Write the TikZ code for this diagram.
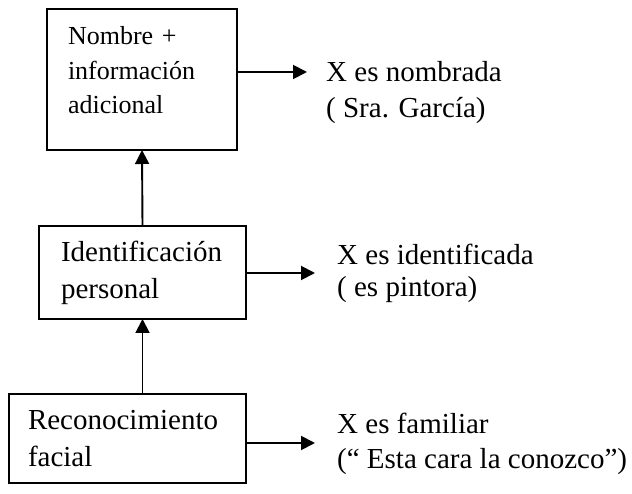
\documentclass[tikz,border=0pt]{standalone}
\usepackage{fontspec}
\setmainfont{Liberation Serif}
\usetikzlibrary{arrows.meta}
\begin{document}
\begin{tikzpicture}[x=1pt,y=-1pt,
  box/.style={draw, line width=1.9pt, anchor=north west, align=left, inner ysep=0pt, outer sep=0pt,
    execute at begin node={\hyphenpenalty=10000 }},
  big/.style={font=\fontsize{29}{37}\selectfont},
  arr/.style={line width=1.9pt, -{Triangle[length=14pt,width=14pt]}},
  lbl/.style={anchor=base west, inner sep=0pt}]
\useasboundingbox (0,0) rectangle (632,494);
\node[box, font=\fontsize{26}{34.5}\selectfont, inner xsep=21pt, text width=148pt,
  minimum height=141pt, text height=36pt, text depth=105pt] (t) at (47,9) {Nombre +\\información\\adicional};
\node[box, big, inner xsep=22pt, text width=163pt, minimum height=93pt] (m) at (39,226)
  {Identificación\\personal};
\node[box, big, inner xsep=19pt, text width=199pt, minimum height=89pt] (b) at (9,394)
  {Reconocimiento\\facial};
\coordinate (ta) at (307,72);
\coordinate (tb) at (315,273);
\coordinate (tc) at (315,443);
\draw[arr] (t.east |- ta) -- (ta);
\draw[arr] (m.east |- tb) -- (tb);
\draw[arr] (b.east |- tc) -- (tc);
\draw[arr] (m.north) -- (t.south);
\draw[arr] (b.north -| m.north) -- (m.south);
\node[lbl, font=\fontsize{29}{36}\selectfont] (la) at (326,82)
  {\begin{tabular}[t]{@{}l@{}}X es nombrada\\( Sra. García)\end{tabular}};
\node[lbl, font=\fontsize{29}{32}\selectfont] (lb) at (337,265)
  {\begin{tabular}[t]{@{}l@{}}X es identificada\\( es pintora)\end{tabular}};
\node[lbl, font=\fontsize{29}{35}\selectfont] (lc) at (337,433)
  {\begin{tabular}[t]{@{}l@{}}X es familiar\\(“ Esta cara la conozco”)\end{tabular}};
\end{tikzpicture}
\end{document}
